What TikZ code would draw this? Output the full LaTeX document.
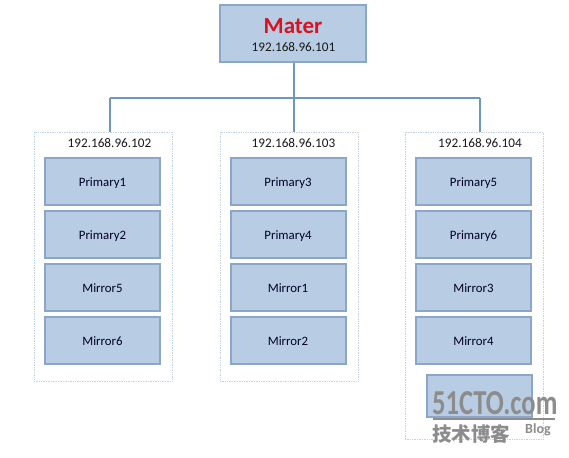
\documentclass[tikz,border=0pt]{standalone}
\usepackage{fontspec}
\setmainfont{Carlito}
\newfontfamily\cjkwm{Noto Sans CJK SC}
\definecolor{boxfill}{HTML}{B8CCE4}
\definecolor{boxline}{HTML}{8AA6C8}
\definecolor{wire}{HTML}{6F97BE}
\definecolor{frameline}{HTML}{C4D3E3}
\definecolor{mater}{HTML}{D8121F}
\definecolor{wm}{HTML}{8C8C8C}
\tikzset{
  x=1pt,y=-1pt,
  hostbox/.style={draw=boxline,fill=boxfill,line width=2pt,minimum width=115pt,minimum height=47pt,inner sep=0pt,font=\fontsize{12.8}{15}\selectfont,text=black!85!blue,text depth=0pt,yshift=0pt},
  hostframe/.style={draw=frameline,line width=0.7pt,densely dotted,inner sep=0pt},
  iplabel/.style={font=\fontsize{13.2}{15}\selectfont,inner sep=0pt,text=black!90},
  wirepath/.style={draw=wire,line width=1.1pt},
}
\begin{document}
\begin{tikzpicture}
\useasboundingbox (0,0) rectangle (569,457);
\fill[white] (0,0) rectangle (569,457);
% frames
\node[hostframe,minimum width=138pt,minimum height=249pt] (f1) at (103,256.5) {};
\node[hostframe,minimum width=138pt,minimum height=249pt] (f2) at (289,256.5) {};
\node[hostframe,minimum width=138pt,minimum height=307pt] (f3) at (474,285.5) {};
% master
\node[draw=boxline,fill=boxfill,line width=2pt,minimum width=146pt,minimum height=57pt,inner sep=0pt] (master) at (293,33.5) {};
\node[font=\bfseries\fontsize{23}{25}\selectfont,text=mater,inner sep=0pt] (matername) at (293,26.5) {Mater};
\node[iplabel] (masterip) at (293.5,47.5) {192.168.96.101};
% wires
\coordinate (busj) at (294,98);
\coordinate (busl) at (110,98);
\coordinate (busr) at (480,98);
\draw[wirepath] (master.south -| busj) -- (busj);
\draw[wirepath] (busl) -- (busr);
\draw[wirepath] (busl) -- (busl |- f1.north);
\draw[wirepath] (busj) -- (busj |- f2.north);
\draw[wirepath] (busr) -- (busr |- f3.north);
% ip labels
\node[iplabel] (ip1) at (109.5,143) {192.168.96.102};
\node[iplabel] (ip2) at (293.5,143) {192.168.96.103};
\node[iplabel] (ip3) at (480,143) {192.168.96.104};
% column 1
\node[hostbox] (a1) at (102.5,181.5) {\raisebox{-2pt}{Primary1}};
\node[hostbox] (a2) at (102.5,234.5) {\raisebox{-2pt}{Primary2}};
\node[hostbox] (a3) at (102.5,287.5) {\raisebox{-2pt}{Mirror5}};
\node[hostbox] (a4) at (102.5,340.5) {\raisebox{-2pt}{Mirror6}};
% column 2
\node[hostbox] (b1) at (288,181.5) {\raisebox{-2pt}{Primary3}};
\node[hostbox] (b2) at (288,234.5) {\raisebox{-2pt}{Primary4}};
\node[hostbox] (b3) at (288,287.5) {\raisebox{-2pt}{Mirror1}};
\node[hostbox] (b4) at (288,340.5) {\raisebox{-2pt}{Mirror2}};
% column 3
\node[hostbox] (c1) at (473.5,181.5) {\raisebox{-2pt}{Primary5}};
\node[hostbox] (c2) at (473.5,234.5) {\raisebox{-2pt}{Primary6}};
\node[hostbox] (c3) at (473.5,287.5) {\raisebox{-2pt}{Mirror3}};
\node[hostbox] (c4) at (473.5,340.5) {\raisebox{-2pt}{Mirror4}};
\node[hostbox,minimum width=105pt,minimum height=42pt] (c5) at (479,396) {};
% watermark
\node[font=\bfseries\fontsize{35}{36}\selectfont,text=wm,inner sep=0pt,anchor=west,xscale=0.76] (wm1) at (432,403.5) {51CTO.com};
\coordinate (wmrulel) at (433,419);
\coordinate (wmruler) at (555,419);
\draw[wm,line width=1.4pt] (wmrulel) -- (wmruler);
\node[font=\cjkwm\bfseries\fontsize{19.5}{20}\selectfont,text=wm,inner sep=0pt,anchor=west] (wm2) at (432,433.5) {技术博客};
\node[font=\bfseries\fontsize{14}{14}\selectfont,text=wm,inner sep=0pt,anchor=west] (wm3) at (525,429.5) {Blog};
\end{tikzpicture}
\end{document}
